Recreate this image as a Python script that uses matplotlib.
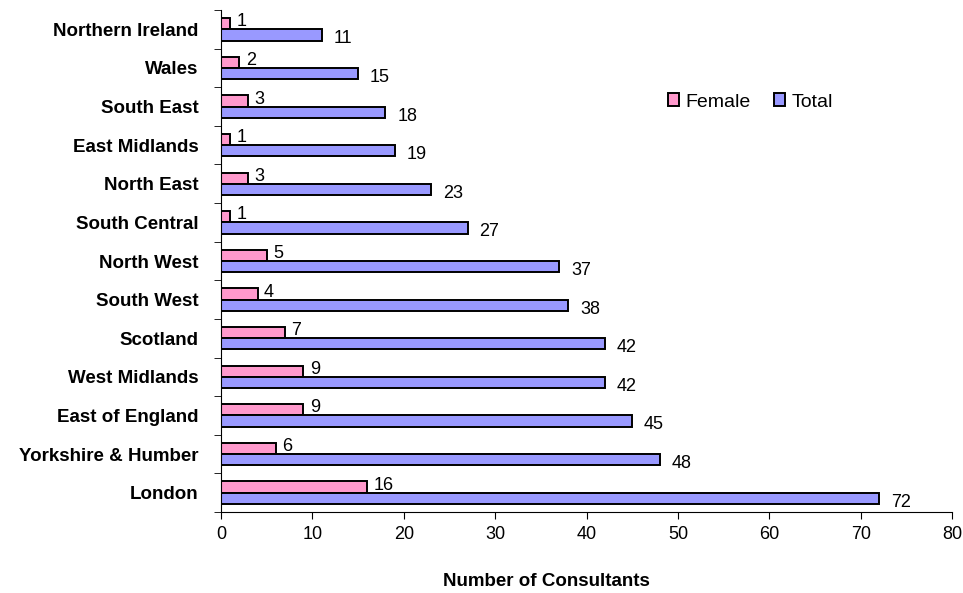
import numpy as np
import matplotlib.pyplot as plt

plt.rcParams['font.family'] = ['Liberation Sans', 'DejaVu Sans']

regions = ["London", "Yorkshire & Humber", "East of England", "West Midlands",
           "Scotland", "South West", "North West", "South Central", "North East",
           "East Midlands", "South East", "Wales", "Northern Ireland"]
female = [16, 6, 9, 9, 7, 4, 5, 1, 3, 1, 3, 2, 1]
total = [72, 48, 45, 42, 42, 38, 37, 27, 23, 19, 18, 15, 11]

fig = plt.figure(figsize=(9.63, 5.93), dpi=100)
ax = fig.add_axes([0.2295, 0.1366, 0.7591, 0.8465])

y = np.arange(len(regions))
h = 0.29
ax.barh(y + h / 2, female, height=h, color="#FF99CC", edgecolor="black", linewidth=1.4, label="Female")
ax.barh(y - h / 2, total, height=h, color="#9999FF", edgecolor="black", linewidth=1.4, label="Total")

for i in range(len(regions)):
    ax.text(female[i] + 0.7, y[i] + h / 2 + 0.05, str(female[i]), fontsize=13, va="center", ha="left")
    ax.text(total[i] + 1.3, y[i] - h / 2 - 0.1, str(total[i]), fontsize=13, va="center", ha="left")

ax.set_xlim(0, 80)
ax.set_ylim(-0.5, len(regions) - 0.5)
ax.set_xticks(range(0, 81, 10))
ax.tick_params(axis="x", labelsize=13, direction="out", length=5, pad=5)

ax.set_yticks(y)
ax.set_yticklabels(regions, fontsize=13.5, fontweight="bold")
ax.set_yticks(np.arange(-0.5, len(regions), 1), minor=True)
ax.tick_params(axis="y", which="major", length=0, pad=16)
ax.tick_params(axis="y", which="minor", length=5, direction="out")

for s in ["top", "right"]:
    ax.spines[s].set_visible(False)

fig.text(0.567, 0.012, "Number of Consultants", fontsize=13.5, fontweight="bold", ha="center")

fig.legend(loc="center", bbox_to_anchor=(0.779, 0.828), ncol=2, frameon=False,
           fontsize=14, handlelength=0.6, handleheight=0.6, handletextpad=0.3,
           columnspacing=1.2)

fig.savefig("out.png", dpi=100)
